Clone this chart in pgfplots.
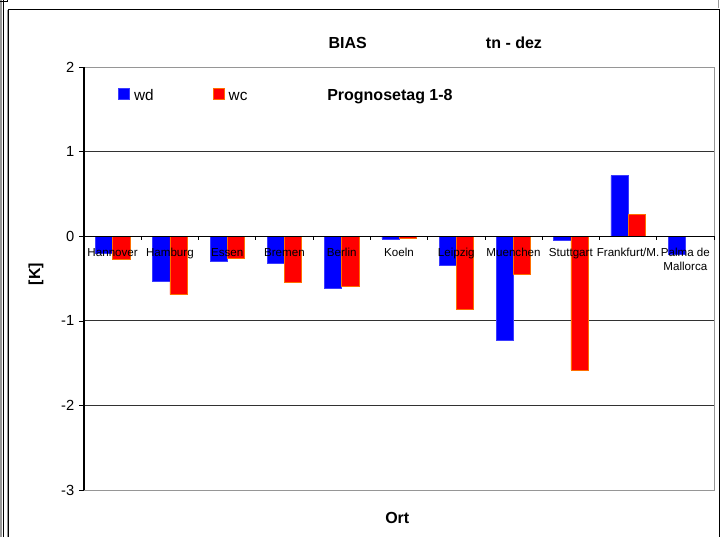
\documentclass[border=0pt]{standalone}
\usepackage{pgfplots}
\pgfplotsset{compat=1.18}
\usepackage{fontspec}
\setmainfont{Liberation Sans}
\definecolor{wdblue}{RGB}{0,0,255}
\definecolor{wdedge}{RGB}{60,60,255}
\definecolor{wcred}{RGB}{255,0,0}
\definecolor{wcedge}{RGB}{255,110,0}
\definecolor{gridc}{RGB}{50,50,50}
\definecolor{boxc}{RGB}{150,150,150}
\begin{document}
\begin{tikzpicture}
\begin{scope}[x=0.75pt,y=0.75pt]
\useasboundingbox (0,0) rectangle (726,537);
% outer frames
\draw[black!40, line width=0.8pt] (1,0) -- (1,537);
\draw[black, line width=0.9pt] (3.2,0) -- (3.2,537);
\draw[black, line width=0.9pt] (0,535.5) -- (7.3,535.5) -- (7.3,537);
\draw[black!40, line width=0.8pt] (718.3,537) -- (718.3,529);
\draw[black!40, line width=0.8pt] (7.4,0) -- (7.4,527);
\draw[black, line width=1pt] (8.8,0) -- (8.8,527.7) -- (719.6,527.7) -- (719.6,0);
\node[anchor=base west, inner sep=0pt, font=\bfseries\fontsize{12}{14}\selectfont] at (328.3,488.7) {BIAS};
\node[anchor=base west, inner sep=0pt, font=\bfseries\fontsize{12}{14}\selectfont] at (485.7,488.7) {tn - dez};
\node[anchor=base west, inner sep=0pt, font=\bfseries\fontsize{12}{14}\selectfont] at (385,13.7) {Ort};
\node[rotate=90, anchor=center, inner sep=0pt, font=\bfseries\fontsize{12}{14}\selectfont] at (36,263) {[K]};
\end{scope}
\begin{axis}[
  axis on top,
  at={(63pt,35.25pt)}, anchor=south west,
  scale only axis, width=472.5pt, height=317pt,
  xmin=-0.5, xmax=10.5, ymin=-3, ymax=2,
  axis x line*=middle, axis y line*=left,
  x axis line style={-, black, line width=0.8pt},
  y axis line style={-, black, line width=0.8pt},
  ybar=0pt, bar width=0.3,
  legend image code/.code={\draw[#1, line width=0.4pt] (0pt,-3.0pt) rectangle (8.2pt,5.2pt); \path (9.4pt,0pt);},
  xtick={0,...,10},
  xticklabels={Hannover,Hamburg,Essen,Bremen,Berlin,Koeln,Leipzig,Muenchen,Stuttgart,Frankfurt/M.,{Palma de\\Mallorca}},
  major x tick style={draw=none},
  minor xtick={-0.5,0.5,...,10.5},
  minor x tick style={black, line width=0.6pt, yshift=-1.2pt},
  minor tick length=2.4pt,
  xtick align=center,
  x tick label style={font=\fontsize{8.7}{10.5}\selectfont, align=center, anchor=north, yshift=-3.5pt},
  ytick={-3,...,2},
  ytick align=outside,
  major tick length=3.75pt,
  y tick style={black, line width=0.6pt},
  y tick label style={font=\fontsize{11}{13}\selectfont},
  /pgf/number format/assume math mode=true,
  legend style={at={(0.054,0.958)}, anchor=north west, draw=none, fill=none,
    inner sep=0pt, font=\fontsize{11.5}{13}\selectfont,
    /tikz/every even column/.append style={column sep=42.5pt}},
  legend columns=2,
  clip=false,
]
\draw[boxc, line width=0.75pt] (rel axis cs:0,1) -- (rel axis cs:1,1) -- (rel axis cs:1,0) -- (rel axis cs:0,0);
\draw[gridc, line width=0.75pt] (axis cs:-0.5,1) -- (axis cs:10.5,1);
\draw[gridc, line width=0.75pt] (axis cs:-0.5,-1) -- (axis cs:10.5,-1);
\draw[gridc, line width=0.75pt] (axis cs:-0.5,-2) -- (axis cs:10.5,-2);
\addplot[fill=wdblue, draw=wdedge, line width=0.4pt, bar shift=-0.15] coordinates {
 (0,-0.20) (1,-0.53) (2,-0.30) (3,-0.32) (4,-0.61) (5,-0.03) (6,-0.34) (7,-1.23) (8,-0.05) (9,0.72) (10,-0.21)};
\addlegendentry{\strut wd}
\addplot[fill=wcred, draw=wcedge, line width=0.4pt, bar shift=0.15] coordinates {
 (0,-0.27) (1,-0.69) (2,-0.26) (3,-0.545) (4,-0.59) (5,-0.02) (6,-0.86) (7,-0.45) (8,-1.58) (9,0.265)};
\addlegendentry{\strut wc}
\node[anchor=base west, inner sep=0pt, font=\bfseries\fontsize{12}{14}\selectfont] at (rel axis cs:0.3857,0.921) {Prognosetag 1-8};
\end{axis}
\end{tikzpicture}
\end{document}
